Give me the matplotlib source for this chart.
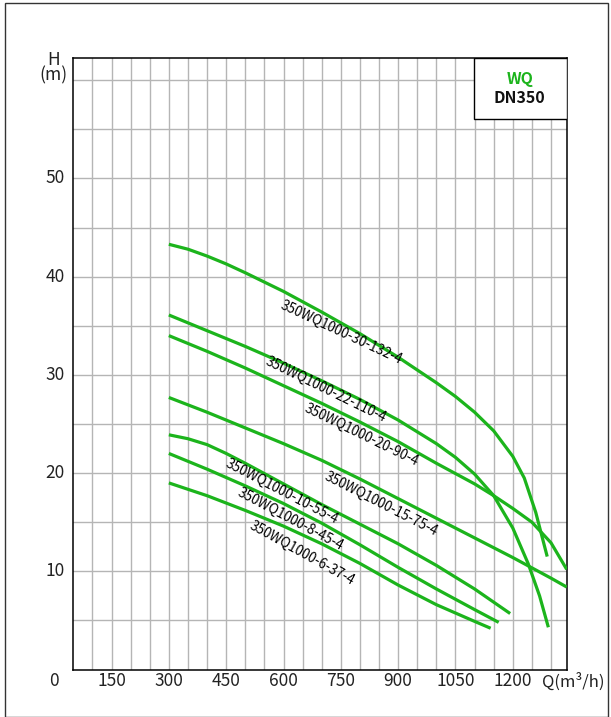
import matplotlib
matplotlib.use("Agg")
import matplotlib.pyplot as plt
from matplotlib.patches import Rectangle

plt.rcParams['font.family'] = ['Noto Sans CJK SC', 'DejaVu Sans']

# ---- data ----
x_ticks = [0, 150, 300, 450, 600, 750, 900, 1050, 1200]
y_ticks = [10, 20, 30, 40, 50]

names = ["350WQ1000-30-132-4", "350WQ1000-22-110-4", "350WQ1000-20-90-4",
         "350WQ1000-15-75-4", "350WQ1000-10-55-4", "350WQ1000-8-45-4",
         "350WQ1000-6-37-4"]

q1 = [300, 350, 400, 450, 500, 600, 700, 800, 900, 1000, 1050, 1100, 1150, 1200, 1230, 1260, 1290]
h1 = [43.3, 42.8, 42.1, 41.3, 40.4, 38.5, 36.4, 34.2, 31.8, 29.2, 27.8, 26.2, 24.3, 21.7, 19.5, 16.0, 11.5]

q2 = [300, 400, 500, 600, 700, 800, 900, 1000, 1050, 1100, 1150, 1200, 1240, 1270, 1293]
h2 = [36.1, 34.5, 32.9, 31.2, 29.4, 27.5, 25.4, 23.0, 21.6, 19.9, 17.7, 14.4, 10.8, 7.5, 4.3]

q3 = [300, 400, 500, 600, 700, 800, 900, 1000, 1100, 1150, 1200, 1250, 1300, 1341]
h3 = [34.0, 32.4, 30.7, 28.9, 27.1, 25.2, 23.2, 21.0, 18.9, 17.7, 16.4, 15.0, 12.9, 10.2]

q4 = [300, 400, 500, 600, 700, 800, 900, 1000, 1100, 1200, 1300, 1341]
h4 = [27.7, 26.2, 24.6, 23.0, 21.3, 19.4, 17.4, 15.4, 13.4, 11.4, 9.3, 8.4]

q5 = [300, 350, 400, 450, 500, 600, 700, 800, 900, 1000, 1100, 1193]
h5 = [23.9, 23.5, 22.9, 22.0, 21.0, 18.9, 16.8, 14.8, 12.8, 10.6, 8.2, 5.7]

q6 = [300, 400, 500, 600, 700, 800, 900, 1000, 1100, 1163]
h6 = [22.0, 20.4, 18.7, 16.9, 14.9, 12.7, 10.4, 8.2, 6.1, 4.8]

q7 = [300, 400, 500, 600, 700, 800, 900, 1000, 1100, 1142]
h7 = [19.0, 17.7, 16.2, 14.6, 12.8, 10.8, 8.6, 6.6, 4.9, 4.2]

# label anchor positions (Q, H) and rotation
label_q = [752, 710, 805, 855, 595, 618, 648]
label_h = [34.3, 28.5, 23.9, 16.9, 18.1, 15.3, 11.8]
label_rot = [-25, -26, -26, -27, -27.5, -28, -29]

curves = [(q1, h1), (q2, h2), (q3, h3), (q4, h4), (q5, h5), (q6, h6), (q7, h7)]

GREEN = '#1cb41c'

fig = plt.figure(figsize=(6.11, 7.17), dpi=100)
# outer frame
fig.patches.append(Rectangle((5 / 611, 0.0), (608 - 5) / 611, 1 - 3 / 717,
                             transform=fig.transFigure, fill=False,
                             edgecolor='#333333', linewidth=1.0))

ax = fig.add_axes([73.3 / 611, 1 - 669.5 / 717, (566.7 - 73.3) / 611, (669.5 - 57.7) / 717])
ax.set_xlim(50, 1341)
ax.set_ylim(0, 62.3)

# grid
for gx in range(100, 1301, 50):
    ax.axvline(gx, color='#b5b5b5', linewidth=1.0, zorder=1)
for gy in range(5, 61, 5):
    ax.axhline(gy, color='#b5b5b5', linewidth=1.0, zorder=1)

ax.set_xticks([])
ax.set_yticks([])
for s in ax.spines.values():
    s.set_color('black')
    s.set_linewidth(1.1)

for (q, h) in curves:
    ax.plot(q, h, color=GREEN, linewidth=2.3, solid_capstyle='butt',
            solid_joinstyle='round', zorder=3)

for name, lq, lh, r in zip(names, label_q, label_h, label_rot):
    ax.text(lq, lh, name, rotation=r, rotation_mode='anchor', ha='center', va='center',
            fontsize=9.7, color='black', zorder=4)

# tick labels
for t in x_ticks:
    ax.text(t, -1.2, str(t), ha='center', va='center', fontsize=12.5,
            transform=ax.transData, clip_on=False, color='#222222')
ax.text(1357, -1.2, 'Q(m³/h)', ha='center', va='center', fontsize=12,
        clip_on=False, color='#222222')
for t in y_ticks:
    ax.text(-0.018, t, str(t), ha='right', va='center', fontsize=12.5,
            transform=ax.get_yaxis_transform(), clip_on=False, color='#222222')
ax.text(-0.04, 61.25, 'H\n(m)', ha='center', va='center', fontsize=12.5,
        multialignment='center', linespacing=0.8,
        transform=ax.get_yaxis_transform(), clip_on=False, color='#222222')

# legend box
ax.add_patch(Rectangle((0.8115, 0.9), 1 - 0.8115, 0.1, transform=ax.transAxes,
                       facecolor='white', edgecolor='black', linewidth=1.0, zorder=5))
ax.text(0.905, 0.965, 'WQ', transform=ax.transAxes, ha='center', va='center',
        fontsize=11.5, color=GREEN, fontweight='bold', zorder=6)
ax.text(0.905, 0.934, 'DN350', transform=ax.transAxes, ha='center', va='center',
        fontsize=11.5, color='#111111', fontweight='bold', zorder=6)

fig.savefig('out.png', dpi=100)
